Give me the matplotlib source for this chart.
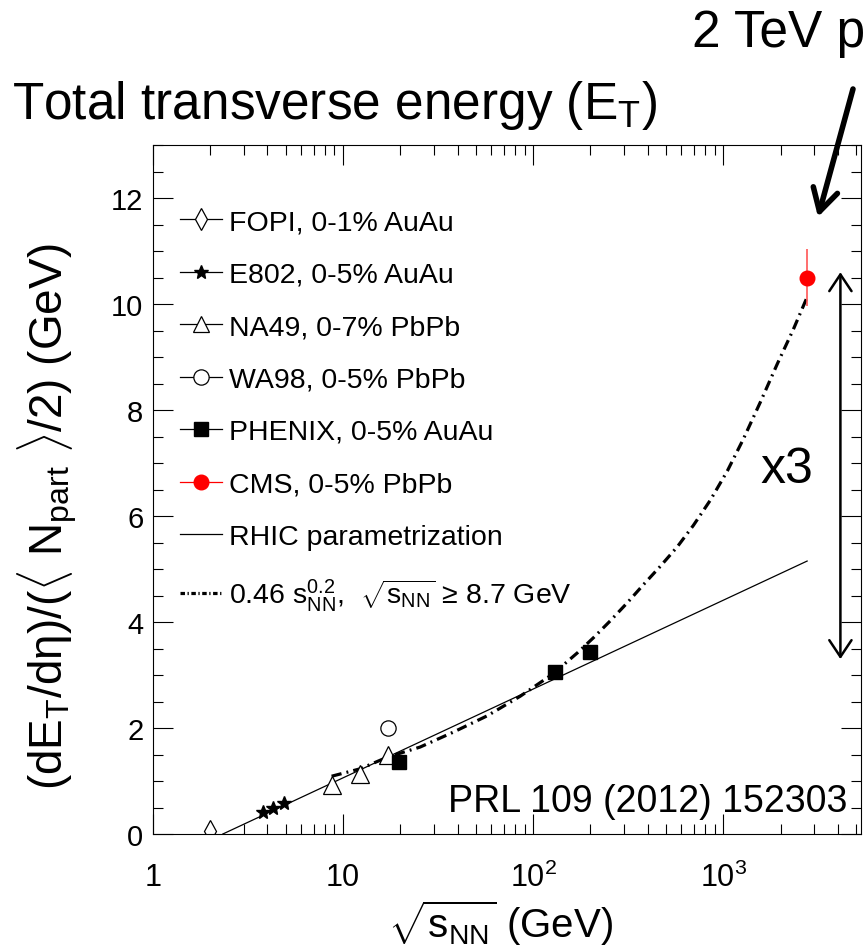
import matplotlib
matplotlib.use("Agg")
import matplotlib.pyplot as plt
from matplotlib.lines import Line2D
from matplotlib.ticker import FixedLocator, FixedFormatter, MultipleLocator, LogLocator, NullFormatter

plt.rcParams['font.family'] = ['Liberation Sans', 'DejaVu Sans']
plt.rcParams['mathtext.fontset'] = 'custom'
plt.rcParams['mathtext.rm'] = 'Liberation Sans'
plt.rcParams['mathtext.it'] = 'Liberation Sans:italic'
plt.rcParams['mathtext.bf'] = 'Liberation Sans:bold'

# --- data (sqrt(s_NN) in GeV, dET/deta per participant pair in GeV) ---
fopi_x = [2.0]
fopi_y = [0.05]
e802_x = [3.8, 4.3, 4.9]
e802_y = [0.41, 0.50, 0.58]
na49_x = [8.7, 12.3, 17.3]
na49_y = [0.92, 1.13, 1.50]
wa98_x = [17.3]
wa98_y = [2.0]
phenix_x = [19.6, 130, 200]
phenix_y = [1.36, 3.05, 3.43]
cms_x = [2760]
cms_y = [10.5]
cms_err = [0.53]

# RHIC parametrization (straight line in log x)
rhic_x = [2.33, 2760]
rhic_y = [0.0, 5.15]

# 0.46 s^0.2 curve
fit_x = [8.7, 12.3, 17.1, 25.4, 37.9, 57.3, 85.5, 127, 171, 207, 254, 312,
         379, 466, 573, 695, 855, 1050, 1274, 1567, 1923, 2335, 2760]
fit_y = [1.09, 1.23, 1.45, 1.64, 1.92, 2.23, 2.60, 3.02, 3.42, 3.70, 4.02, 4.36,
         4.70, 5.05, 5.42, 5.82, 6.30, 6.85, 7.45, 8.15, 8.87, 9.52, 10.13]

xtick_vals = [1, 10, 100, 1000]
xtick_labels = ['1', '10', r'10$^{\mathregular{2}}$', r'10$^{\mathregular{3}}$']

legend_labels = [
    'FOPI, 0-1% AuAu',
    'E802, 0-5% AuAu',
    'NA49, 0-7% PbPb',
    'WA98, 0-5% PbPb',
    'PHENIX, 0-5% AuAu',
    'CMS, 0-5% PbPb',
    'RHIC parametrization',
    r'0.46 s$_{\mathregular{NN}}^{\mathregular{0.2}}$,  $\sqrt{\mathregular{s}_{\mathregular{NN}}}$ ≥ 8.7 GeV',
]

W, H = 865, 953
fig = plt.figure(figsize=(W / 100, H / 100), dpi=100)
ax = fig.add_axes([153 / W, 1 - 835 / H, (861 - 153) / W, (835 - 146) / H])

dashdot = (0, (3.2, 1.6, 0.6, 1.6))
ax.plot(rhic_x, rhic_y, color='k', lw=0.9)
ax.plot(fit_x, fit_y, color='k', lw=2.3, ls=dashdot)

ax.plot(fopi_x, fopi_y, ls='none', marker='d', ms=11, mfc='white', mec='k', mew=0.9)
ax.plot(e802_x, e802_y, ls='none', marker='*', ms=10, color='k')
ax.plot(na49_x, na49_y, ls='none', marker='^', ms=13, mfc='white', mec='k', mew=0.9)
ax.plot(wa98_x, wa98_y, ls='none', marker='o', ms=11, mfc='white', mec='k', mew=0.9)
ax.plot(phenix_x, phenix_y, ls='none', marker='s', ms=10, color='k')
ax.errorbar(cms_x, cms_y, yerr=cms_err, fmt='o', ms=10.5, color='red',
            ecolor='#ff5555', elinewidth=1.2, capsize=0)

ax.set_xscale('log')
ax.set_xlim(1, 5300)
ax.set_ylim(0, 13)

ax.xaxis.set_major_locator(FixedLocator(xtick_vals))
ax.xaxis.set_major_formatter(FixedFormatter(xtick_labels))
ax.xaxis.set_minor_locator(LogLocator(base=10, subs=range(2, 10), numticks=20))
ax.xaxis.set_minor_formatter(NullFormatter())
ax.yaxis.set_major_locator(MultipleLocator(2))
ax.yaxis.set_minor_locator(MultipleLocator(0.5))

ax.tick_params(which='both', direction='in', top=True, right=True, width=0.8)
ax.tick_params(which='major', length=14.5)
ax.tick_params(which='minor', length=7.5)
ax.tick_params(axis='x', which='major', labelsize=22, pad=20)
ax.tick_params(axis='y', which='major', labelsize=21, pad=7)
for s in ax.spines.values():
    s.set_linewidth(0.8)

handles = [
    Line2D([], [], color='k', lw=0.9, marker='d', ms=11, mfc='white', mew=0.9),
    Line2D([], [], color='k', lw=0.9, marker='*', ms=10),
    Line2D([], [], color='k', lw=0.9, marker='^', ms=12, mfc='white', mew=0.9),
    Line2D([], [], color='k', lw=0.9, marker='o', ms=11, mfc='white', mew=0.9),
    Line2D([], [], color='k', lw=0.9, marker='s', ms=10),
    Line2D([], [], color='red', lw=0.9, marker='o', ms=10.5),
    Line2D([], [], color='k', lw=0.9),
    Line2D([], [], color='k', lw=2.3, ls=(0, (1.4, 0.8, 0.4, 0.8))),
]
ax.legend(handles, legend_labels, loc='upper left', bbox_to_anchor=(0.038, 0.907),
          frameon=False, fontsize=20.5, handlelength=1.47, handletextpad=0.25,
          labelspacing=0.93, borderaxespad=0, borderpad=0)

# double arrow and factor
ax.annotate('', xy=(4130, 3.3), xytext=(4130, 10.6),
            arrowprops=dict(arrowstyle='<->, head_length=0.6, head_width=0.4',
                            lw=1.8, color='k', shrinkA=0, shrinkB=0, mutation_scale=20))
fig.text(760 / W, 1 - 470 / H, 'x3', fontsize=36, ha='left', va='center')
fig.text(847 / W, 1 - 812 / H, 'PRL 109 (2012) 152303', fontsize=27, ha='right', va='baseline')

# axis titles
fig.text(47 / W, 1 - 517 / H,
         r'(dE$_{\mathregular{T}}$/d$\mathregular{\eta}$)/($\langle$ N$_{\mathregular{part}}$ $\rangle$/2) (GeV)',
         fontsize=33, rotation=90, ha='center', va='center')
fig.text(500 / W, 1 - 923 / H, r'$\sqrt{\mathregular{s}_{\mathregular{NN}}}$ (GeV)',
         fontsize=29, ha='center', va='center')

# slide annotations
fig.text(12 / W, 1 - 119 / H, r'Total transverse energy (E$_{\mathregular{T}}$)',
         fontsize=37, ha='left', va='baseline')
fig.text(692 / W, 1 - 47 / H, '2 TeV p', fontsize=37, ha='left', va='baseline')
ax.annotate('', xy=(818, H - 218), xytext=(853, H - 90), xycoords='figure pixels',
            textcoords='figure pixels',
            arrowprops=dict(arrowstyle='->, head_length=0.8, head_width=0.45',
                            lw=4, color='k', shrinkA=0, shrinkB=0, mutation_scale=20))

fig.savefig('out.png', dpi=100)
